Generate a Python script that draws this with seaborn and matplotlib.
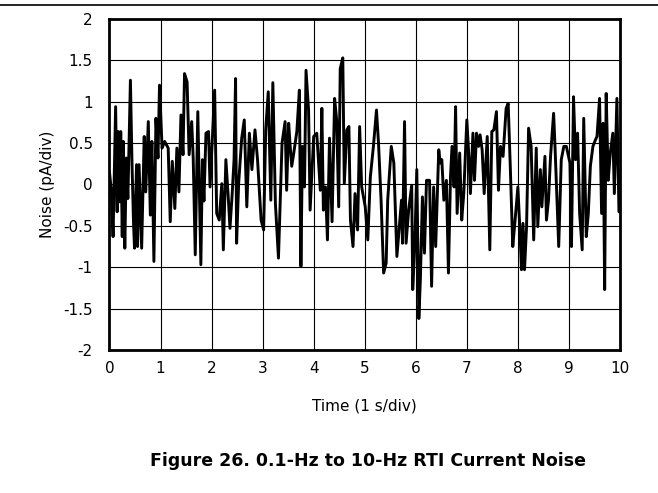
import pandas as pd
import matplotlib
matplotlib.use("Agg")
from matplotlib import pyplot as plt
import seaborn as sns

# values (time in s, noise in pA)
time_s = [0.00, 0.04, 0.07, 0.12, 0.15, 0.17, 0.20, 0.22, 0.25, 0.27, 0.30, 0.33, 0.36, 0.41, 0.44,
          0.47, 0.49, 0.53, 0.55, 0.58, 0.63, 0.68, 0.71, 0.76, 0.80, 0.83, 0.87, 0.91, 0.95, 0.98,
          1.03, 1.08, 1.15, 1.19, 1.23, 1.28, 1.32, 1.36, 1.40, 1.44, 1.47, 1.52, 1.56, 1.61, 1.64,
          1.68, 1.73, 1.79, 1.82, 1.85, 1.89, 1.94,
          1.97, 2.06, 2.10, 2.15, 2.20, 2.23, 2.28, 2.33, 2.36, 2.40, 2.44, 2.47, 2.49, 2.53, 2.59,
          2.64, 2.69, 2.74, 2.79, 2.85, 2.90, 2.97, 3.02, 3.06, 3.11, 3.16, 3.20, 3.25,
          3.31, 3.38, 3.44, 3.47, 3.51, 3.54, 3.57, 3.61, 3.67, 3.72, 3.75, 3.78, 3.82, 3.85, 3.90,
          3.93, 4.00, 4.06, 4.13, 4.16, 4.19, 4.23, 4.27, 4.31, 4.36, 4.41, 4.45, 4.49, 4.52, 4.57,
          4.60, 4.65, 4.69, 4.72, 4.77, 4.81, 4.86, 4.90, 4.94, 5.01, 5.06, 5.11, 5.17, 5.23, 5.27,
          5.32, 5.37, 5.42, 5.45, 5.52, 5.57, 5.63, 5.72, 5.74, 5.78, 5.81, 5.86, 5.92, 5.94, 5.98,
          6.02, 6.06, 6.09, 6.13, 6.17, 6.21, 6.27, 6.31, 6.35, 6.39, 6.45,
          6.48, 6.51, 6.55, 6.60, 6.64, 6.68, 6.71, 6.75, 6.78, 6.81, 6.86, 6.90, 6.94, 7.00, 7.04,
          7.07, 7.12, 7.15, 7.19, 7.23, 7.26, 7.30, 7.34, 7.40, 7.45, 7.49, 7.53, 7.58, 7.62, 7.66,
          7.71, 7.77, 7.81, 7.85, 7.90, 7.94, 8.00, 8.04, 8.07, 8.10, 8.13, 8.17, 8.21, 8.26, 8.31,
          8.36, 8.39, 8.44, 8.47, 8.53, 8.56, 8.60, 8.64, 8.70, 8.73, 8.80, 8.85, 8.90, 8.95, 9.02,
          9.05, 9.09, 9.13, 9.17, 9.21, 9.26, 9.29, 9.34, 9.38, 9.42, 9.47, 9.52, 9.55, 9.60, 9.64,
          9.67, 9.70, 9.73, 9.77, 9.81, 9.86, 9.89, 9.94, 9.98]
noise_pa = [0.15, -0.10, -0.63, 0.94, -0.33, 0.64, -0.21, 0.64, -0.63, 0.52, -0.77, 0.32, -0.17, 1.26, 0.28,
            -0.45, -0.77, 0.24, -0.75, 0.24, -0.77, 0.58, -0.09, 0.76, -0.37, 0.52, -0.93, 0.80, 0.32, 1.20,
            0.44, 0.52, 0.44, -0.45, 0.28, -0.29, 0.44, -0.09, 0.84, 0.36, 1.34, 1.24, 0.36, 0.76, 0.32,
            -0.85, 0.88, -0.97, 0.30, -0.20, 0.62, 0.64,
            -0.03, 1.14, -0.35, -0.43, 0.01, -0.79, 0.30, -0.19, -0.53, -0.15, 0.30, 1.28, -0.71, 0.01, 0.56,
            0.78, -0.27, 0.62, 0.18, 0.66, 0.30, -0.43, -0.55, 0.66, 1.12, -0.19, 1.23, -0.23,
            -0.89, 0.50, 0.76, -0.07, 0.74, 0.46, 0.22, 0.38, 0.64, 1.14, -0.99, 0.46, -0.03, 1.38, 0.90,
            -0.31, 0.58, 0.62, -0.07, 0.92, -0.31, -0.03, -0.67, 0.56, -0.45, 1.04, 0.78, -0.27, 1.40, 1.53,
            0.01, 0.66, 0.70, -0.43, -0.75, -0.11, -0.55, 0.70, -0.03, -0.27, -0.67, 0.09, 0.46, 0.90, 0.50,
            -0.19, -1.07, -0.95, -0.19, 0.46, 0.26, -0.87, -0.19, -0.71, 0.76, -0.71, -0.31, -0.01, -1.27, -0.75,
            0.18, -1.62, -1.15, -0.15, -0.83, 0.05, 0.05, -1.23, -0.03, -0.75, 0.42,
            0.26, 0.30, -0.19, 0.05, -1.07, 0.09, 0.46, -0.03, 0.94, -0.35, 0.38, -0.43, -0.11, 0.78, 0.34,
            -0.11, 0.62, 0.05, 0.62, 0.46, 0.60, 0.42, -0.11, 0.58, -0.79, 0.64, 0.66, 0.88, -0.07, 0.46,
            0.34, 0.92, 0.98, 0.24, -0.75, -0.47, -0.03, -0.55, -1.03, -0.47, -1.03, -0.51, 0.68, 0.46, -0.67,
            0.44, -0.51, 0.18, -0.27, 0.34, -0.43, -0.19, 0.34, 0.86, 0.42, -0.75, 0.30, 0.46, 0.46, 0.26,
            -0.75, 1.06, 0.30, 0.62, -0.35, -0.79, 0.80, -0.63, -0.35, 0.22, 0.46, 0.54, 0.58, 1.04, -0.35,
            0.74, -1.27, 1.10, 0.05, 0.38, 0.62, -0.11, 1.04, -0.33]

x_ticks = [0, 1, 2, 3, 4, 5, 6, 7, 8, 9, 10]
y_ticks = [-2, -1.5, -1, -0.5, 0, 0.5, 1, 1.5, 2]
y_labels = ["-2", "-1.5", "-1", "-0.5", "0", "0.5", "1", "1.5", "2"]

df = pd.DataFrame({"Time": time_s, "Noise": noise_pa})

sns.set_style("white")
plt.rcParams["font.family"] = ["DejaVu Sans"]
plt.rcParams["text.color"] = "black"
plt.rcParams["axes.labelcolor"] = "black"
plt.rcParams["xtick.color"] = "black"
plt.rcParams["ytick.color"] = "black"

fig = plt.figure(figsize=(6.58, 4.93), dpi=100)
ax = fig.add_axes([0.1664, 0.2901, 0.7758, 0.6714])

sns.lineplot(data=df, x="Time", y="Noise", ax=ax, color="black", linewidth=2.1, sort=False)

ax.set_xlim(0, 10)
ax.set_ylim(-2, 2)
ax.set_xticks(x_ticks)
ax.set_yticks(y_ticks)
ax.set_yticklabels(y_labels)
ax.grid(True, color="black", linewidth=0.8)
ax.set_axisbelow(True)
ax.tick_params(axis="y", length=0, labelsize=11, pad=12, colors="black")
ax.tick_params(axis="x", length=0, labelsize=11, pad=8, colors="black")
for s in ax.spines.values():
    s.set_linewidth(2)
    s.set_color("black")

ax.set_xlabel("Time (1 s/div)", fontsize=11, labelpad=16, color="black")
ax.set_ylabel("Noise (pA/div)", fontsize=11, labelpad=6, color="black")

# page rule on top and figure caption
fig.add_artist(plt.Line2D([0, 1], [0.99, 0.99], color="black", linewidth=1.2))
fig.text(0.56, 0.065, "Figure 26. 0.1-Hz to 10-Hz RTI Current Noise",
         ha="center", va="center", fontsize=12.5, fontweight="bold", color="black")

fig.savefig("out.png", dpi=100)
